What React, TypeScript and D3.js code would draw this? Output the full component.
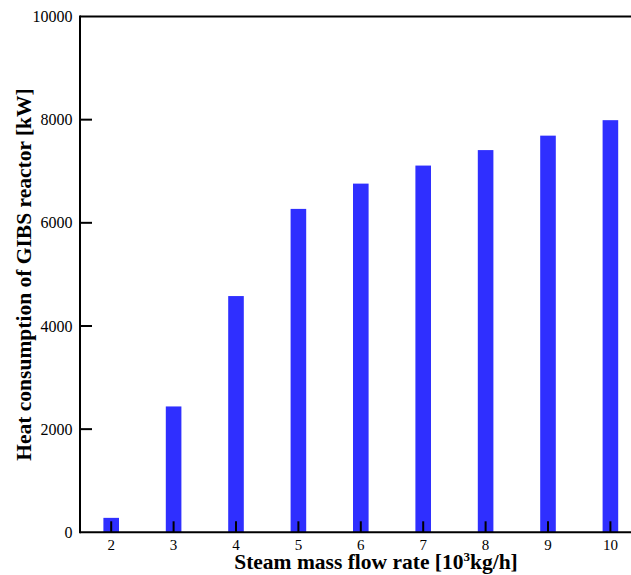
import React from "react";
import * as d3 from "d3";

const categories = [2, 3, 4, 5, 6, 7, 8, 9, 10];
const heatValues = [280, 2440, 4580, 6270, 6760, 7110, 7410, 7690, 7990];
const yTicks = [0, 2000, 4000, 6000, 8000, 10000];

const W = 631;
const H = 575;
const left = 80;
const top = 16.5;
const bottom = 532.3;
const serif = "'Liberation Serif', 'Times New Roman', serif";

export default function App() {
  const x = d3.scaleLinear().domain([1.5, 10.5]).range([left, left + 9 * 62.4]);
  const y = d3.scaleLinear().domain([0, 10000]).range([bottom, top]);
  const barW = 15.6;
  return (
    <svg width={W} height={H} style={{ position: "absolute", left: 0, top: 0, background: "#fff" }}>
      {categories.map((c, i) => (
        <rect key={c} x={x(c) - barW / 2} y={y(heatValues[i])} width={barW} height={y(0) - y(heatValues[i])} fill="#2f2fff" />
      ))}
      {/* axes */}
      <line x1={left} x2={W} y1={top} y2={top} stroke="#000" strokeWidth={2} />
      <line x1={left} x2={W} y1={bottom} y2={bottom} stroke="#000" strokeWidth={2} />
      <line x1={left} x2={left} y1={top - 1} y2={bottom + 1} stroke="#000" strokeWidth={2} />
      {yTicks.map((t) => (
        <g key={t}>
          {t !== 0 && t !== 10000 && (
            <line x1={left} x2={left + 12} y1={y(t)} y2={y(t)} stroke="#000" strokeWidth={2} />
          )}
          <text x={72.5} y={y(t)} dy="0.35em" textAnchor="end" fontFamily={serif} fontSize={16} fill="#000">
            {t}
          </text>
        </g>
      ))}
      {categories.map((c) => (
        <g key={c}>
          <line x1={x(c)} x2={x(c)} y1={bottom} y2={bottom - 11} stroke="#000" strokeWidth={2} />
          <text x={x(c)} y={550} textAnchor="middle" fontFamily={serif} fontSize={15} fill="#000">
            {c}
          </text>
        </g>
      ))}
      <text x={376} y={569} textAnchor="middle" fontFamily={serif} fontSize={21.5} fontWeight="bold" fill="#000">
        Steam mass flow rate [10
        <tspan dy={-8} fontSize={13}>3</tspan>
        <tspan dy={8}>kg/h]</tspan>
      </text>
      <text
        transform={`translate(31, 274.5) rotate(-90)`}
        textAnchor="middle"
        fontFamily={serif}
        fontSize={21.5}
        fontWeight="bold"
        fill="#000"
      >
        Heat consumption of GIBS reactor [kW]
      </text>
    </svg>
  );
}
